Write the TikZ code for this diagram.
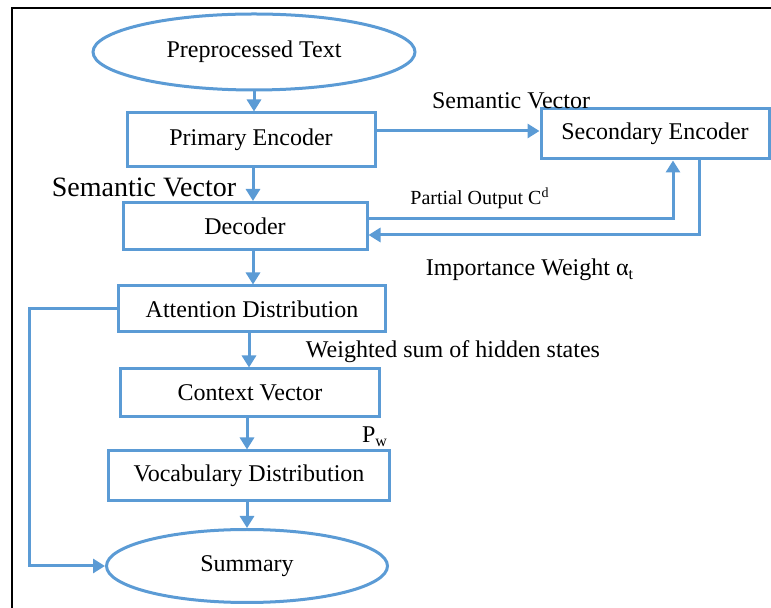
\documentclass[tikz,border=0pt]{standalone}
\usepackage{fontspec}
\setmainfont{Liberation Serif}
\usetikzlibrary{arrows.meta,shapes.geometric}
\definecolor{FlowBlue}{HTML}{5B9BD5}
\definecolor{Ink}{HTML}{000000}
\tikzset{
  flowbox/.style={draw=FlowBlue, line width=1.5pt, fill=white, inner sep=0, font=\fontsize{12}{14}\selectfont, text=Ink},
  flowoval/.style={flowbox, ellipse},
  flowarrow/.style={draw=FlowBlue, line width=1.5pt, -{Triangle[length=6pt, width=7pt]}},
  flowlabel/.style={inner sep=0, font=\fontsize{12}{14}\selectfont, text=Ink}
}

\begin{document}
\begin{tikzpicture}[x=0.5pt, y=-0.5pt]
    \useasboundingbox (0,0) rectangle (771,608);
    \draw[Ink, line width=1.2pt] (12,612) -- (12,8) -- (775,8);
    % flow nodes
    \node[flowoval, minimum width=161pt, minimum height=38pt] (pre) at (254,52) {Preprocessed Text};
    \node[flowbox, minimum width=124pt, minimum height=27pt] (pe) at (251,140) {Primary Encoder};
    \node[flowbox, minimum width=114pt, minimum height=25pt] (sec) at (655,134) {Secondary Encoder};
    \node[flowbox, minimum width=122pt, minimum height=23.5pt] (dec) at (245,226) {Decoder};
    \node[flowbox, minimum width=133.5pt, minimum height=23pt] (att) at (252,309) {Attention Distribution};
    \node[flowbox, minimum width=129.5pt, minimum height=24pt] (ctx) at (250,393) {Context Vector};
    \node[flowbox, minimum width=140.5pt, minimum height=25pt] (voc) at (249,476) {Vocabulary Distribution};
    \node[flowoval, minimum width=140.5pt, minimum height=36.5pt] (sum) at (247,566) {Summary};
    \coordinate (loop) at (29,566);
    % connectors
    \draw[flowarrow] (pre.south) -- (pre.south |- pe.north);
    \draw[flowarrow] ([xshift=1pt]pe.south) -- ([xshift=1pt]pe.south |- dec.north);
    \draw[flowarrow] ([yshift=4.5pt]pe.east) -- ([yshift=4.5pt]pe.east -| sec.west);
    \draw[flowarrow] ([yshift=3.5pt]dec.east) -| ([xshift=9pt]sec.south);
    \draw[flowarrow] ([xshift=22pt]sec.south) |- ([yshift=-4.5pt]dec.east);
    \draw[flowarrow] ([xshift=4pt]dec.south) -- ([xshift=4pt]dec.south |- att.north);
    \draw[flowarrow] ([xshift=-1.5pt]att.south) -- ([xshift=-1.5pt]att.south |- ctx.north);
    \draw[flowarrow] ([xshift=-1.5pt]ctx.south) -- ([xshift=-1.5pt]ctx.south |- voc.north);
    \draw[flowarrow] ([xshift=-1pt]voc.south) -- ([xshift=-1pt]voc.south |- sum.north);
    \draw[flowarrow] (att.west) -| (loop) -- (sum.west);
    % labels
    \node[flowlabel] (semtop) at (511,101) {Semantic Vector};
    \node[flowlabel, font=\fontsize{14}{16}\selectfont] (semleft) at (144,187) {Semantic Vector};
    \node[flowlabel, font=\fontsize{10}{12}\selectfont] (partial) at (480,198) {Partial Output C\textsuperscript{d}};
    \node[flowlabel] (weight) at (530,270) {Importance Weight α\textsubscript{t}};
    \node[flowlabel] (wsum) at (453,352) {Weighted sum of hidden states};
    \node[flowlabel] (pw) at (375,437) {P\textsubscript{w}};
  \end{tikzpicture}
\end{document}
